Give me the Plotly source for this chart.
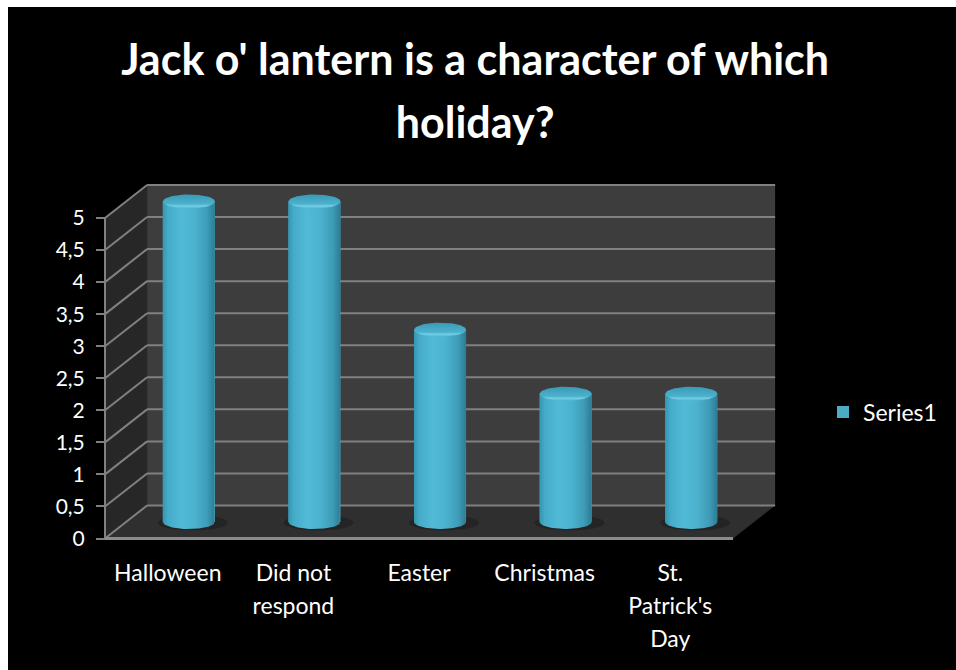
import numpy as np
import plotly.graph_objects as go

# ---- data -------------------------------------------------------------
categories = ["Halloween", "Did not respond", "Easter", "Christmas", "St. Patrick's Day"]
category_labels = ["Halloween", "Did not<br>respond", "Easter", "Christmas", "St.<br>Patrick's<br>Day"]
values = [5, 5, 3, 2, 2]
y_ticks = [0, 0.5, 1, 1.5, 2, 2.5, 3, 3.5, 4, 4.5, 5]
series_name = "Series1"
title_lines = ["Jack o' lantern is a character of which", "holiday?"]

# ---- 3D frame geometry (in axis units) ---------------------------------
DX = 0.335          # depth offset along x (category units)
DY = 0.515          # depth offset along y (value units)
N = len(categories)
YMAX = 5
R = 0.207           # cylinder radius (x units)
RY = 0.11           # cylinder cap half-height (y units)

# plot-area placement in pixels
ML, MR, MT, MB = 103, 180, 183, 130
PW, PH = 956 - ML - MR, 670 - MT - MB


def px_to_paper_x(px):
    return (px - ML) / PW


def px_to_paper_y(py):
    return (670 - MB - py) / PH


FONT = "Lato"
GRID = "#808080"

fig = go.Figure()

shapes = []
# black chart area with a thin white margin on the top and left
shapes.append(dict(type="rect", xref="paper", yref="paper", layer="below",
                   line=dict(width=0), fillcolor="black",
                   x0=px_to_paper_x(8), x1=px_to_paper_x(970),
                   y0=px_to_paper_y(690), y1=px_to_paper_y(7)))
# side wall, floor, back wall
shapes.append(dict(type="path", xref="x", yref="y", layer="below", line=dict(width=0),
                   fillcolor="#272727",
                   path=f"M0,0 L{DX},{DY} L{DX},{YMAX + DY} L0,{YMAX} Z"))
shapes.append(dict(type="path", xref="x", yref="y", layer="below", line=dict(width=0),
                   fillcolor="#2f2f2f",
                   path=f"M0,0 L{N},0 L{N + DX},{DY} L{DX},{DY} Z"))
shapes.append(dict(type="rect", xref="x", yref="y", layer="below", line=dict(width=0),
                   fillcolor="#3d3d3d", x0=DX, x1=N + DX, y0=DY, y1=YMAX + DY))
# gridlines on side wall and back wall
for v in y_ticks:
    shapes.append(dict(type="line", xref="x", yref="y", layer="below",
                       line=dict(color=GRID, width=2), x0=0, y0=v, x1=DX, y1=v + DY))
    shapes.append(dict(type="line", xref="x", yref="y", layer="below",
                       line=dict(color=GRID, width=2), x0=DX, y0=v + DY, x1=N + DX, y1=v + DY))
# front value axis line and front floor edge
shapes.append(dict(type="line", xref="x", yref="y", layer="below",
                   line=dict(color=GRID, width=2), x0=0, y0=0, x1=0, y1=YMAX))
shapes.append(dict(type="line", xref="x", yref="y", layer="below",
                   line=dict(color="#8c8c8c", width=3), x0=0, y0=0, x1=N, y1=0))

# cylinder positions: centred in depth
xc = [i + 0.5 + DX / 2 for i in range(N)]
yb = DY / 2

# soft shadows on the floor
for x in xc:
    shapes.append(dict(type="circle", xref="x", yref="y", layer="below", line=dict(width=0),
                       fillcolor="rgba(0,0,0,0.22)",
                       x0=x - R * 1.2, x1=x + R * 1.5, y0=yb - RY * 1.2, y1=yb + RY * 1.0))

# the series itself
fig.add_trace(go.Bar(
    x=xc, y=values, base=yb, width=2 * R, name=series_name,
    marker=dict(color="#4bacc6", line=dict(width=0)),
    showlegend=True, hoverinfo="skip",
))

t = np.linspace(0, np.pi, 40)
a = np.linspace(0, 2 * np.pi, 80)
body_scale = [[0.0, "#3596b1"], [0.1, "#45abc8"], [0.35, "#51bad6"], [0.6, "#4cb3cf"],
              [0.85, "#3e9cb7"], [1.0, "#2c7b93"]]
cap_scale = [[0.0, "#4fb4d0"], [0.18, "#74cfe6"], [0.32, "#4cb1cd"], [1.0, "#3a9ab6"]]
for x, v in zip(xc, values):
    top = yb + v
    # body: rectangle plus front half of the bottom ellipse
    bx = np.concatenate([[x - R, x - R, x + R, x + R], x + R * np.cos(t)])
    by = np.concatenate([[yb, top, top, yb], yb - RY * np.sin(t)])
    fig.add_trace(go.Scatter(x=bx, y=by, mode="lines", fill="toself", line=dict(width=0),
                             fillgradient=dict(type="horizontal", colorscale=body_scale),
                             showlegend=False, hoverinfo="skip"))
    # top cap
    fig.add_trace(go.Scatter(x=x + R * np.cos(a), y=top + RY * np.sin(a), mode="lines",
                             fill="toself", line=dict(width=0),
                             fillgradient=dict(type="vertical", colorscale=cap_scale),
                             showlegend=False, hoverinfo="skip"))

title_text = "<br>".join(f"<span style='font-size:43px'>{s}</span>" for s in title_lines)
tick_text = ["<br>".join(f"<span style='font-size:23px'>{p}</span>" for p in lbl.split("<br>"))
             for lbl in category_labels]

fig.update_layout(
    width=956, height=670,
    margin=dict(l=ML, r=MR, t=MT, b=MB),
    paper_bgcolor="white", plot_bgcolor="black",
    separators=", ",
    font=dict(family=FONT, color="white"),
    title=dict(text=title_text, x=0.497, xref="container", xanchor="center",
               y=1 - 75 / 670, yref="container", yanchor="top",
               font=dict(family=FONT, size=48.5, color="white", weight="bold")),
    shapes=shapes,
    barmode="overlay",
    showlegend=True,
    legend=dict(x=px_to_paper_x(823), y=px_to_paper_y(412), xanchor="left", yanchor="middle",
                font=dict(family=FONT, size=23, color="white"), bgcolor="rgba(0,0,0,0)"),
    xaxis=dict(range=[-0.0159, 5.342], showgrid=False, zeroline=False, showline=False,
               tickvals=[i + 0.5 for i in range(N)], ticktext=tick_text, ticks="",
               tickfont=dict(family=FONT, size=25.4, color="white"), ticklabelstandoff=15,
               fixedrange=True),
    yaxis=dict(range=[-0.0234, 5.546], showgrid=False, zeroline=False, showline=False,
               anchor="free", position=2 / PW,
               tickvals=y_ticks, ticks="outside", ticklen=9, tickwidth=2, tickcolor=GRID,
               tickfont=dict(family=FONT, size=21, color="white"), ticklabelstandoff=7,
               fixedrange=True),
)

fig.write_html("out.html")
